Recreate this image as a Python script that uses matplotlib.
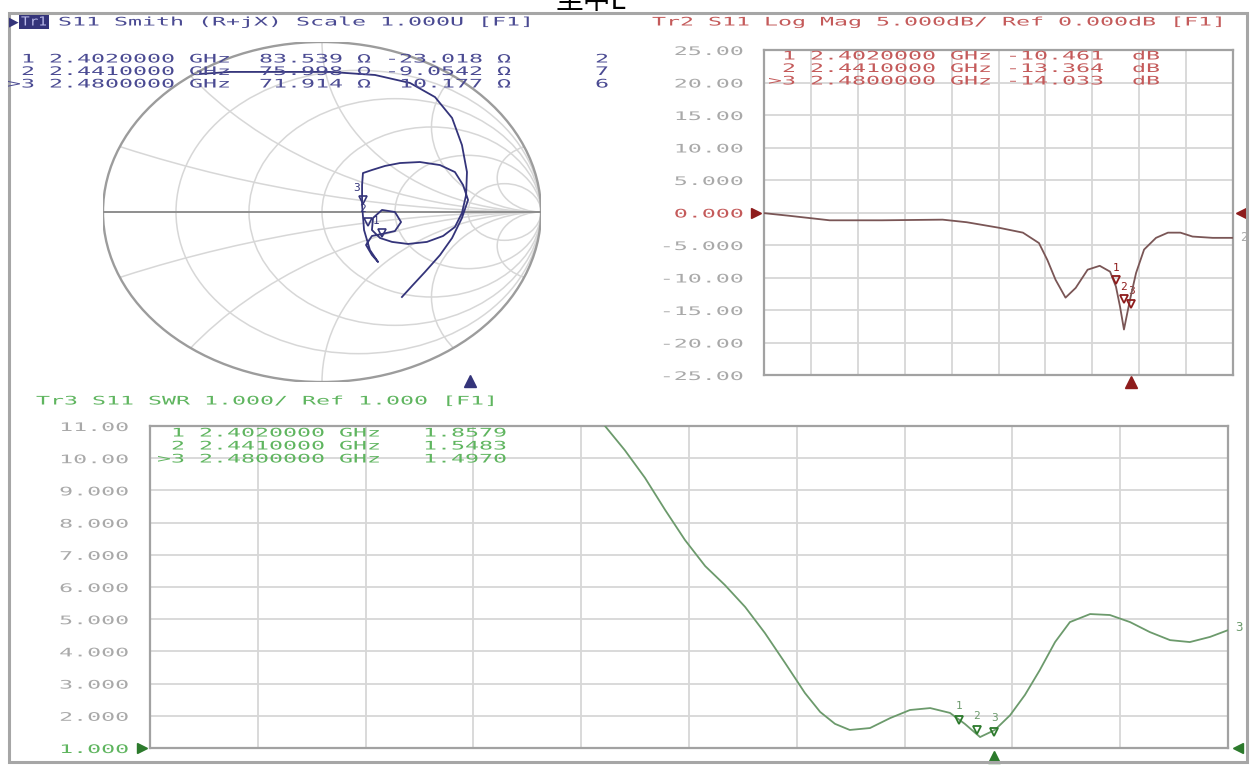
import numpy as np
import matplotlib
matplotlib.use("Agg")
import matplotlib.pyplot as plt
from matplotlib.patheffects import AbstractPathEffect
from matplotlib.transforms import Affine2D, blended_transform_factory
from matplotlib.patches import Rectangle, Circle

W, H = 1252, 767

# ---------------- data ----------------
F_START, F_STOP = 0.6, 3.0  # GHz (sweep span)

swr_freq = [1.580, 1.613, 1.657, 1.702, 1.747, 1.791, 1.836, 1.880, 1.925, 1.969,
            2.014, 2.058, 2.092, 2.125, 2.158, 2.203, 2.248, 2.292, 2.337, 2.381,
            2.414, 2.448, 2.481, 2.515, 2.548, 2.581, 2.615, 2.648, 2.693, 2.737,
            2.782, 2.826, 2.871, 2.915, 2.960, 3.000]
swr_val = [11.6, 11.0, 10.25, 9.39, 8.39, 7.46, 6.65, 6.06, 5.38, 4.57,
           3.64, 2.71, 2.12, 1.75, 1.56, 1.62, 1.93, 2.18, 2.24, 2.09,
           1.75, 1.34, 1.56, 2.02, 2.65, 3.42, 4.29, 4.91, 5.16, 5.13,
           4.91, 4.60, 4.35, 4.29, 4.45, 4.66]

lm_freq = [0.600, 0.728, 0.936, 1.204, 1.514, 1.638, 1.803, 1.925, 2.007, 2.050,
           2.092, 2.143, 2.195, 2.256, 2.318, 2.371, 2.401, 2.422, 2.442, 2.473,
           2.504, 2.545, 2.606, 2.667, 2.731, 2.793, 2.896, 3.000]
lm_db = [-0.1, -0.5, -1.2, -1.2, -1.1, -1.5, -2.35, -3.1, -4.7, -7.3,
         -10.35, -13.1, -11.6, -8.8, -8.2, -9.1, -11.4, -14.5, -18.0, -13.4,
         -9.3, -5.7, -3.9, -3.1, -3.1, -3.7, -3.9, -3.9]

smith_re = [-0.557, -0.420, -0.192, 0.037, 0.242, 0.402, 0.516, 0.594, 0.639, 0.662,
            0.658, 0.639, 0.607, 0.553, 0.479, 0.393, 0.320, 0.265, 0.228, 0.233,
            0.274, 0.333, 0.361, 0.333, 0.274, 0.228, 0.201, 0.228, 0.256, 0.219,
            0.192, 0.183, 0.183, 0.187, 0.228, 0.288, 0.356, 0.447, 0.539, 0.607,
            0.644, 0.667, 0.639, 0.594, 0.539, 0.470, 0.411, 0.365]
smith_im = [0.812, 0.824, 0.824, 0.824, 0.806, 0.759, 0.676, 0.553, 0.394, 0.235,
            0.100, -0.006, -0.088, -0.141, -0.176, -0.188, -0.176, -0.153, -0.106, -0.035,
            0.012, 0.000, -0.059, -0.112, -0.129, -0.141, -0.194, -0.253, -0.294, -0.224,
            -0.106, 0.041, 0.159, 0.229, 0.247, 0.271, 0.288, 0.294, 0.276, 0.235,
            0.159, 0.071, -0.035, -0.153, -0.253, -0.353, -0.435, -0.500]

marker_ids = ["1", "2", "3"]
marker_freq = [2.402, 2.441, 2.480]
marker_db = [-10.461, -13.364, -14.033]
marker_swr = [1.8579, 1.5483, 1.4970]
marker_R = [83.539, 75.998, 71.914]
marker_X = [-23.018, -9.0542, 10.177]
Z0 = 50.0

smith_r_circles = [0.2, 0.5, 1.0, 2.0, 5.0]
smith_x_arcs = [0.2, 0.5, 1.0, 2.0, 5.0]

logmag_ticks = [25, 20, 15, 10, 5, 0, -5, -10, -15, -20, -25]
logmag_ticklabels = ["25.00", "20.00", "15.00", "10.00", "5.000", "0.000",
                     "-5.000", "-10.00", "-15.00", "-20.00", "-25.00"]
swr_ticks = [11, 10, 9, 8, 7, 6, 5, 4, 3, 2, 1]
swr_ticklabels = ["11.00", "10.00", "9.000", "8.000", "7.000", "6.000",
                  "5.000", "4.000", "3.000", "2.000", "1.000"]

smith_header = "S11 Smith (R+jX) Scale 1.000U [F1]"
logmag_header = "Tr2 S11 Log Mag 5.000dB/ Ref 0.000dB [F1]"
swr_header = "Tr3 S11 SWR 1.000/ Ref 1.000 [F1]"

smith_rows = ["1 2.4020000 GHz  83.539 \u03a9 -23.018 \u03a9      2",
              "2 2.4410000 GHz  75.998 \u03a9 -9.0542 \u03a9      7",
              ">3 2.4800000 GHz  71.914 \u03a9  10.177 \u03a9      6"]
logmag_rows = ["1 2.4020000 GHz -10.461  dB",
               "2 2.4410000 GHz -13.364  dB",
               ">3 2.4800000 GHz -14.033  dB"]
swr_rows = ["1 2.4020000 GHz   1.8579",
            "2 2.4410000 GHz   1.5483",
            ">3 2.4800000 GHz   1.4970"]
caption = "\u5750\u4e2dE"

# ---------------- style ----------------
NAVY = "#34347a"
SMITH_TXT = "#4a4a92"
RED_TXT = "#c45a5a"
LM_TRACE = "#7a5656"
DARKRED = "#8e1c1c"
GREEN_TXT = "#5fb55f"
SWR_TRACE = "#6c9a6c"
DARKGREEN = "#2c7a2c"
TICK = "#a9a9a9"
GRID = "#d7d7d7"
SPINE = "#a2a2a2"
MONO = "DejaVu Sans Mono"
FS = 8.5
PITCH = 14.0
SX = PITCH / (0.602 * FS * 100 / 72)


class Stretch(AbstractPathEffect):
    """Widen glyphs horizontally (the VNA bitmap font is wide)."""
    def __init__(self, sx, anchor="left"):
        super().__init__()
        self.sx = sx
        self.anchor = anchor

    def draw_path(self, renderer, gc, tpath, affine, rgbFace=None):
        ext = tpath.get_extents()
        if self.anchor == "right":
            a = ext.x1
        elif self.anchor == "center":
            a = 0.5 * (ext.x0 + ext.x1)
        else:
            a = 0.0
        t = Affine2D().translate(-a, 0).scale(self.sx, 1.0).translate(a, 0) + affine
        renderer.draw_path(gc, tpath, t, rgbFace)


fig = plt.figure(figsize=(W / 100, H / 100), dpi=100)
fig.patch.set_facecolor("white")


def fax(l, t, r, b):
    return [l / W, (H - b) / H, (r - l) / W, (b - t) / H]


# ---------------- Smith chart ----------------
axS = fig.add_axes(fax(103, 42, 541, 382))
axS.set_xlim(-1, 1)
axS.set_ylim(-1, 1)
axS.axis("off")
clip = Circle((0, 0), 1, transform=axS.transData)
for r in smith_r_circles:
    c = Circle((r / (1 + r), 0), 1 / (1 + r), fill=False, ec=GRID, lw=1.1)
    axS.add_patch(c)
    c.set_clip_path(clip)
for x in smith_x_arcs:
    for s in (1, -1):
        c = Circle((1, s / x), 1 / x, fill=False, ec=GRID, lw=1.1)
        axS.add_patch(c)
        c.set_clip_path(clip)
axS.add_patch(Circle((0, 0), 1, fill=False, ec="#9c9c9c", lw=1.7))
axS.plot([-1, 1], [0, 0], color="#8e8e8e", lw=1.4)
axS.plot(smith_re, smith_im, color=NAVY, lw=1.3, zorder=5)
z = np.array(marker_R) + 1j * np.array(marker_X)
gam = (z - Z0) / (z + Z0)
axS.plot(gam.real, gam.imag, ls="none", marker="v", ms=6, mfc="none", mec=NAVY, mew=1.2, zorder=6)
for i, g in enumerate(gam):
    axS.annotate(marker_ids[i], (g.real, g.imag), xytext=(-4, 9), textcoords="offset points",
                 color=NAVY, fontsize=8, family=MONO, ha="center", va="center")

# ---------------- Log Mag ----------------
axL = fig.add_axes(fax(764, 50, 1233, 375))
axL.set_xlim(F_START, F_STOP)
axL.set_ylim(-25, 25)
axL.set_xticks(np.linspace(F_START, F_STOP, 11))
axL.set_yticks(logmag_ticks, logmag_ticklabels)
axL.tick_params(length=0, pad=15, labelsize=FS, labelcolor=TICK, labelbottom=False)
axL.grid(True, color=GRID, lw=1.3)
for sp in axL.spines.values():
    sp.set_color(SPINE)
    sp.set_linewidth(1.6)
for lab in axL.get_yticklabels():
    lab.set_family(MONO)
    lab.set_path_effects([Stretch(SX, "right")])
    if lab.get_text() == "0.000":
        lab.set_color(RED_TXT)
axL.plot(lm_freq, lm_db, color=LM_TRACE, lw=1.3, zorder=4)
axL.plot(marker_freq, marker_db, ls="none", marker="v", ms=6, mfc="none", mec=DARKRED, mew=1.3, zorder=5)
for i in range(3):
    axL.annotate(marker_ids[i], (marker_freq[i], marker_db[i]), xytext=(0, 9), textcoords="offset points",
                 color=DARKRED, fontsize=8, family=MONO, ha="center", va="center")
trL = blended_transform_factory(axL.transAxes, axL.transData)
axL.plot([-0.016], [0], marker=">", ms=7, color=DARKRED, transform=trL, clip_on=False)
axL.plot([1.016], [0], marker="<", ms=7, color=DARKRED, transform=trL, clip_on=False)
axL.annotate("2", (lm_freq[-1], lm_db[-1]), xytext=(8, 0), textcoords="offset points",
             color=TICK, fontsize=9, family=MONO, ha="center", va="center", annotation_clip=False)
trLb = blended_transform_factory(axL.transData, axL.transAxes)
axL.plot([marker_freq[2]], [-0.02], marker="^", ms=8, color=DARKRED, transform=trLb, clip_on=False)

# ---------------- SWR ----------------
axW = fig.add_axes(fax(150, 426, 1228, 748))
axW.set_xlim(F_START, F_STOP)
axW.set_ylim(1, 11)
axW.set_xticks(np.linspace(F_START, F_STOP, 11))
axW.set_yticks(swr_ticks, swr_ticklabels)
axW.tick_params(length=0, pad=15.5, labelsize=FS, labelcolor=TICK, labelbottom=False)
axW.grid(True, color=GRID, lw=1.3)
for sp in axW.spines.values():
    sp.set_color(SPINE)
    sp.set_linewidth(1.6)
for lab in axW.get_yticklabels():
    lab.set_family(MONO)
    lab.set_path_effects([Stretch(SX, "right")])
    if lab.get_text() == "1.000":
        lab.set_color(GREEN_TXT)
axW.plot(swr_freq, swr_val, color=SWR_TRACE, lw=1.3, zorder=4)
axW.plot(marker_freq, marker_swr, ls="none", marker="v", ms=6, mfc="none", mec=DARKGREEN, mew=1.3, zorder=5)
for i in range(3):
    axW.annotate(marker_ids[i], (marker_freq[i], marker_swr[i]), xytext=(0, 10), textcoords="offset points",
                 color=SWR_TRACE, fontsize=8, family=MONO, ha="center", va="center")
trW = blended_transform_factory(axW.transAxes, axW.transData)
axW.plot([-0.007], [1], marker=">", ms=7, color=DARKGREEN, transform=trW, clip_on=False)
axW.plot([1.009], [1], marker="<", ms=7, color=DARKGREEN, transform=trW, clip_on=False)
axW.annotate("3", (swr_freq[-1], swr_val[-1]), xytext=(8, 2), textcoords="offset points",
             color=SWR_TRACE, fontsize=9, family=MONO, ha="center", va="center", annotation_clip=False)
trWb = blended_transform_factory(axW.transData, axW.transAxes)
axW.plot([marker_freq[2]], [-0.028], marker="^", ms=8, color=DARKGREEN, transform=trWb, clip_on=False)

# ---------------- overlay: frame and texts ----------------
ov = fig.add_axes([0, 0, 1, 1])
ov.set_xlim(0, W)
ov.set_ylim(H, 0)
ov.axis("off")
ov.patch.set_alpha(0)
ov.set_zorder(10)

ov.add_patch(Rectangle((9, 13), 1238, 749, fill=False, ec="#a6a6a6", lw=2.2))


def vtext(x, y, s, color, size=FS, sx=SX, anchor="left"):
    t = ov.text(x, y, s, color=color, fontsize=size, family=MONO, ha=anchor, va="center")
    t.set_path_effects([Stretch(sx, anchor)])
    return t


# Smith header
ov.text(14, 22, "\u25b6", color=NAVY, fontsize=9, ha="center", va="center", family="DejaVu Sans")
ov.add_patch(Rectangle((19, 15), 30, 14, fc=NAVY, ec="none"))
vtext(21, 22, "Tr1", "#b8b8e8", size=9, sx=1.15)
vtext(58, 22, smith_header, SMITH_TXT)
vtext(21, 59, smith_rows[0], SMITH_TXT)
vtext(21, 71.5, smith_rows[1], SMITH_TXT)
vtext(7, 84, smith_rows[2], SMITH_TXT)
ov.plot([470], [381], marker="^", ms=8, color=NAVY)

# Log Mag header and marker table
vtext(652, 22, logmag_header, RED_TXT)
vtext(782, 56, logmag_rows[0], RED_TXT)
vtext(782, 68.5, logmag_rows[1], RED_TXT)
vtext(768, 81, logmag_rows[2], RED_TXT)

# SWR header and marker table
vtext(36, 401, swr_header, GREEN_TXT)
vtext(171, 433, swr_rows[0], GREEN_TXT)
vtext(171, 446, swr_rows[1], GREEN_TXT)
vtext(157, 459, swr_rows[2], GREEN_TXT)

# caption cut off at the top
ov.text(556, 9, caption, color="black", fontsize=20,
        family=["Noto Sans CJK SC", "DejaVu Sans"], ha="left", va="baseline")

fig.savefig("out.png", dpi=100, facecolor="white")
